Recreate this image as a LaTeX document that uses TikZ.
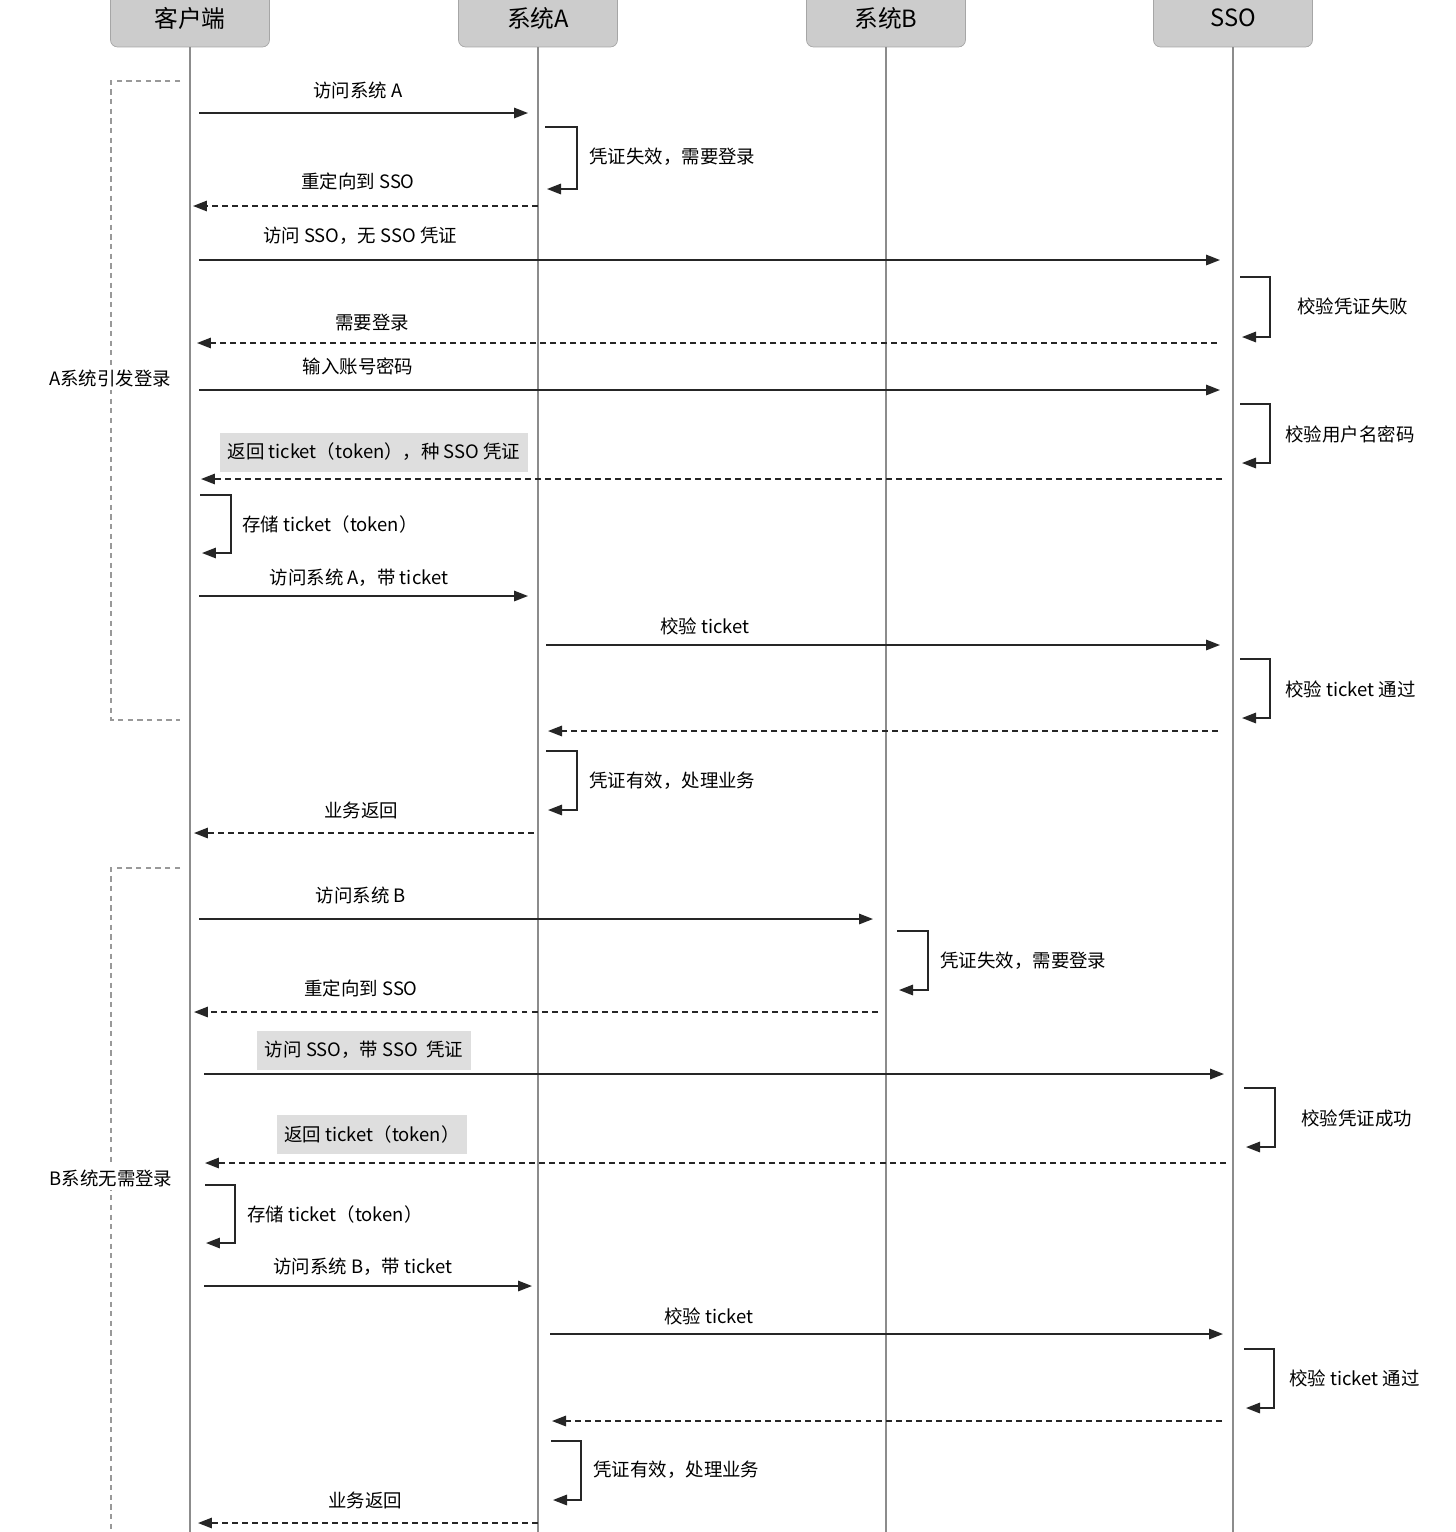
\documentclass[tikz,border=0pt]{standalone}
\usepackage{fontspec}
\setmainfont{Noto Sans CJK SC}
\usetikzlibrary{arrows.meta}
\tikzset{
    actor/.style={
    rectangle,rounded corners=4pt,draw=black!35,fill=black!20,
    minimum width=3.18cm,minimum height=1.16cm,font=\fontsize{13.5}{16}\selectfont
    },
    lifeline/.style={
    draw=black!45,line width=0.8pt
    },
    call/.style={
    draw=black!85,line width=0.9pt,-{Triangle[length=2.8mm,width=2.1mm]}
    },
    reply/.style={
    call,dash pattern=on 3.4pt off 2.3pt
    },
    msg/.style={
    font=\fontsize{10.5}{12}\selectfont,inner sep=0pt
    },
    note/.style={
    msg,anchor=west
    },
    hmsg/.style={
    msg,fill=black!13,inner xsep=0.15cm,minimum height=0.78cm
    },
    group/.style={
    draw=black!40,line width=0.6pt,dash pattern=on 3pt off 2.5pt
    },
    glabel/.style={
    msg,fill=white,inner sep=2pt
    },
}

\begin{document}
\begin{tikzpicture}[x=0.02cm, y=-0.02cm]
  \useasboundingbox (0,0) rectangle (1456,1532);

  % participants
  \node[actor] (client) at (190,18) {客户端};
  \node[actor] (sysA) at (538,18) {系统A};
  \node[actor] (sysB) at (886,18) {系统B};
  \node[actor] (sso) at (1233,18) {SSO};
  \coordinate (clientEnd) at (190,1532);
  \coordinate (sysAEnd) at (538,1532);
  \coordinate (sysBEnd) at (886,1532);
  \coordinate (ssoEnd) at (1233,1532);
  \draw[lifeline] (client.south) -- (clientEnd);
  \draw[lifeline] (sysA.south) -- (sysAEnd);
  \draw[lifeline] (sysB.south) -- (sysBEnd);
  \draw[lifeline] (sso.south) -- (ssoEnd);

  % groups
  \draw[group] (180,81) -- (111,81) -- (111,720) -- (180,720);
  \draw[group] (180,868) -- (111,868) -- (111,1540);
  \node[glabel] (gA) at (110,378) {A系统引发登录};
  \node[glabel] (gB) at (111,1178) {B系统无需登录};

  % A system triggers login
  \coordinate (m1a) at (199,113);  \coordinate (m1b) at (528,113);
  \coordinate (m2a) at (545,127);  \coordinate (m2b) at (547,189);
  \coordinate (m3a) at (538,206);  \coordinate (m3b) at (193,206);
  \coordinate (m4a) at (199,260);  \coordinate (m4b) at (1220,260);
  \coordinate (m5a) at (1240,277); \coordinate (m5b) at (1242,337);
  \coordinate (m6a) at (1217,343); \coordinate (m6b) at (197,343);
  \coordinate (m7a) at (199,390);  \coordinate (m7b) at (1220,390);
  \coordinate (m8a) at (1240,404); \coordinate (m8b) at (1242,463);
  \coordinate (m9a) at (1222,479); \coordinate (m9b) at (201,479);
  \coordinate (m10a) at (200,495); \coordinate (m10b) at (202,553);
  \coordinate (m11a) at (199,596); \coordinate (m11b) at (528,596);
  \coordinate (m12a) at (546,645); \coordinate (m12b) at (1220,645);
  \coordinate (m13a) at (1240,659); \coordinate (m13b) at (1242,718);
  \coordinate (m14a) at (1218,731); \coordinate (m14b) at (548,731);
  \coordinate (m15a) at (546,751); \coordinate (m15b) at (548,810);
  \coordinate (m16a) at (534,833); \coordinate (m16b) at (194,833);

  \draw[call] (m1a) -- (m1b);
  \draw[call] (m2a) -- ++(32,0) |- (m2b);
  \draw[reply] (m3a) -- (m3b);
  \draw[call] (m4a) -- (m4b);
  \draw[call] (m5a) -- ++(30,0) |- (m5b);
  \draw[reply] (m6a) -- (m6b);
  \draw[call] (m7a) -- (m7b);
  \draw[call] (m8a) -- ++(30,0) |- (m8b);
  \draw[reply] (m9a) -- (m9b);
  \draw[call] (m10a) -- ++(31,0) |- (m10b);
  \draw[call] (m11a) -- (m11b);
  \draw[call] (m12a) -- (m12b);
  \draw[call] (m13a) -- ++(30,0) |- (m13b);
  \draw[reply] (m14a) -- (m14b);
  \draw[call] (m15a) -- ++(31,0) |- (m15b);
  \draw[reply] (m16a) -- (m16b);

  \node[msg] (l1) at (358,90) {访问系统 A};
  \node[note] (l2) at (589,157) {凭证失效，需要登录};
  \node[msg] (l3) at (358,181) {重定向到 SSO};
  \node[msg] (l4) at (360,236) {访问 SSO，无 SSO 凭证};
  \node[note] (l5) at (1297,306) {校验凭证失败};
  \node[msg] (l6) at (372,323) {需要登录};
  \node[msg] (l7) at (358,366) {输入账号密码};
  \node[note] (l8) at (1285,434) {校验用户名密码};
  \node[hmsg] (l9) at (374,452) {返回 ticket（token），种 SSO 凭证};
  \node[note] (l10) at (242,524) {存储 ticket（token）};
  \node[msg] (l11) at (359,578) {访问系统 A，带 ticket};
  \node[msg] (l12) at (705,626) {校验 ticket};
  \node[note] (l13) at (1285,689) {校验 ticket 通过};
  \node[note] (l15) at (589,781) {凭证有效，处理业务};
  \node[msg] (l16) at (361,810) {业务返回};

  % B system, no login needed
  \coordinate (m17a) at (199,919);  \coordinate (m17b) at (873,919);
  \coordinate (m18a) at (897,931);  \coordinate (m18b) at (899,990);
  \coordinate (m19a) at (878,1012); \coordinate (m19b) at (194,1012);
  \coordinate (m20a) at (204,1074); \coordinate (m20b) at (1224,1074);
  \coordinate (m21a) at (1244,1088); \coordinate (m21b) at (1246,1147);
  \coordinate (m22a) at (1226,1163); \coordinate (m22b) at (205,1163);
  \coordinate (m23a) at (205,1185); \coordinate (m23b) at (206,1243);
  \coordinate (m24a) at (204,1286); \coordinate (m24b) at (532,1286);
  \coordinate (m25a) at (550,1334); \coordinate (m25b) at (1223,1334);
  \coordinate (m26a) at (1244,1349); \coordinate (m26b) at (1246,1408);
  \coordinate (m27a) at (1222,1421); \coordinate (m27b) at (552,1421);
  \coordinate (m28a) at (551,1441); \coordinate (m28b) at (553,1500);
  \coordinate (m29a) at (538,1523); \coordinate (m29b) at (198,1523);

  \draw[call] (m17a) -- (m17b);
  \draw[call] (m18a) -- ++(31,0) |- (m18b);
  \draw[reply] (m19a) -- (m19b);
  \draw[call] (m20a) -- (m20b);
  \draw[call] (m21a) -- ++(31,0) |- (m21b);
  \draw[reply] (m22a) -- (m22b);
  \draw[call] (m23a) -- ++(30,0) |- (m23b);
  \draw[call] (m24a) -- (m24b);
  \draw[call] (m25a) -- (m25b);
  \draw[call] (m26a) -- ++(30,0) |- (m26b);
  \draw[reply] (m27a) -- (m27b);
  \draw[call] (m28a) -- ++(30,0) |- (m28b);
  \draw[reply] (m29a) -- (m29b);

  \node[msg] (l17) at (361,895) {访问系统 B};
  \node[note] (l18) at (940,961) {凭证失效，需要登录};
  \node[msg] (l19) at (361,988) {重定向到 SSO};
  \node[hmsg] (l20) at (364,1050) {访问 SSO，带 SSO\ \ 凭证};
  \node[note] (l21) at (1301,1118) {校验凭证成功};
  \node[hmsg] (l22) at (372,1134) {返回 ticket（token）};
  \node[note] (l23) at (247,1214) {存储 ticket（token）};
  \node[msg] (l24) at (363,1267) {访问系统 B，带 ticket};
  \node[msg] (l25) at (709,1316) {校验 ticket};
  \node[note] (l26) at (1289,1378) {校验 ticket 通过};
  \node[note] (l28) at (593,1470) {凭证有效，处理业务};
  \node[msg] (l29) at (365,1500) {业务返回};
\end{tikzpicture}
\end{document}
